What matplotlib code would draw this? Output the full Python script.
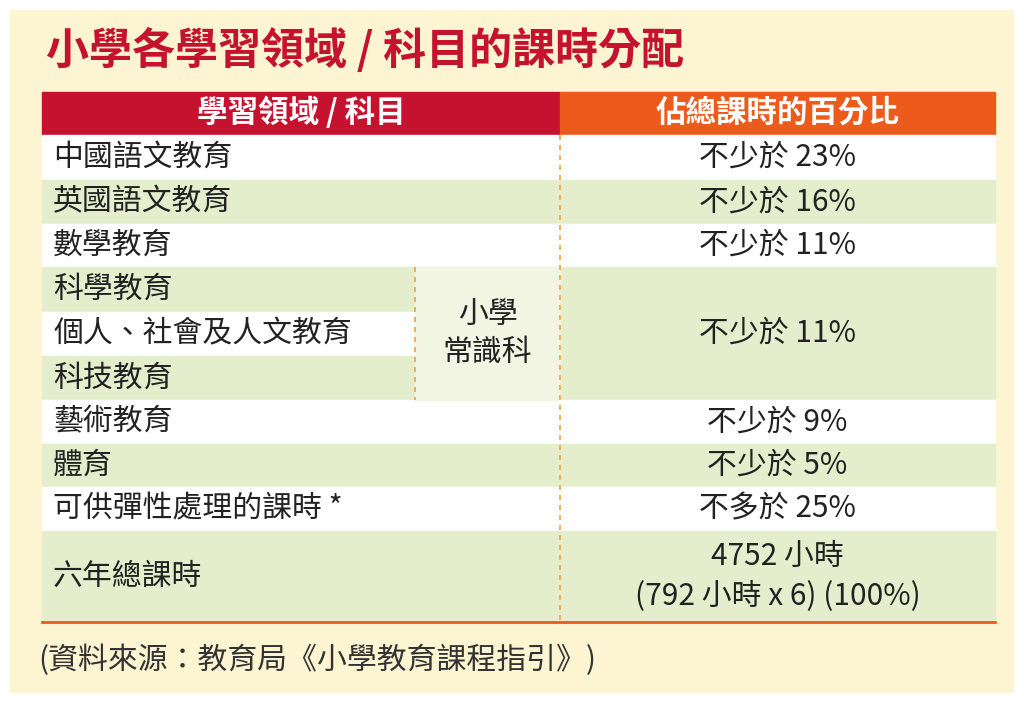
import matplotlib.pyplot as plt
from matplotlib.patches import Rectangle

plt.rcParams['font.family'] = 'Noto Sans CJK TC'

title = "小學各學習領域 / 科目的課時分配"
headers = ["學習領域 / 科目", "佔總課時的百分比"]
subjects = ["中國語文教育", "英國語文教育", "數學教育", "科學教育", "個人、社會及人文教育",
            "科技教育", "藝術教育", "體育", "可供彈性處理的課時 *", "六年總課時"]
percents = ["不少於 23%", "不少於 16%", "不少於 11%", None, "不少於 11%", None,
            "不少於 9%", "不少於 5%", "不多於 25%", "4752 小時\n(792 小時 x 6) (100%)"]
merged_label = "小學\n常識科"
source = "(資料來源：教育局《小學教育課程指引》)"

row_edges = [135, 180, 224, 267, 312, 356, 400, 444, 487, 531, 622]
x0, xm, xs, x1 = 42, 560, 415, 995
WHITE, GREEN, LIGHT = "#ffffff", "#e5eecc", "#f1f5e2"
ORANGE, RED = "#ec5a1c", "#c4122f"
FS = 21.5

fig = plt.figure(figsize=(10.24, 7.03), dpi=100)
ax = fig.add_axes([0, 0, 1, 1])
ax.set_xlim(0, 1024)
ax.set_ylim(703, 0)
ax.axis('off')
fig.patch.set_facecolor('white')
ax.add_patch(Rectangle((10, 10), 1003, 682, color="#fdf5d2", zorder=0))

ax.text(46, 50, title, color=RED, fontsize=31, fontweight='bold', va='center')

ax.add_patch(Rectangle((x0, 92), xm - x0, 43, color=RED))
ax.add_patch(Rectangle((xm, 92), x1 - xm, 43, color=ORANGE))
ax.text((x0 + xm) / 2, 113, headers[0], color='white', fontsize=22, fontweight='bold', ha='center', va='center')
ax.text((xm + x1) / 2, 113, headers[1], color='white', fontsize=22, fontweight='bold', ha='center', va='center')

for i, subj in enumerate(subjects):
    top, bot = row_edges[i], row_edges[i + 1]
    fill = WHITE if i % 2 == 0 else GREEN
    ax.add_patch(Rectangle((x0, top), xm - x0, bot - top, color=fill, zorder=1))
    ax.text(53, (top + bot) / 2, subj, fontsize=FS, va='center', color='#222222', zorder=3)
    if percents[i] is not None:
        if i == 4:
            ptop, pbot, pfill = row_edges[3], row_edges[6], GREEN
        else:
            ptop, pbot, pfill = top, bot, fill
        ax.add_patch(Rectangle((xm, ptop), x1 - xm, pbot - ptop, color=pfill, zorder=1))
        ax.text((xm + x1) / 2, (ptop + pbot) / 2, percents[i], fontsize=FS, ha='center',
                va='center', color='#222222', linespacing=1.4, zorder=3)

ax.add_patch(Rectangle((xs, row_edges[3]), xm - xs, row_edges[6] - row_edges[3], color=LIGHT, zorder=2))
ax.text((xs + xm) / 2, (row_edges[3] + row_edges[6]) / 2, merged_label, fontsize=FS,
        ha='center', va='center', color='#222222', linespacing=1.3, zorder=3)

ax.plot([xm, xm], [135, 622], color="#f0a040", lw=1.2, ls=(0, (3, 3)), zorder=4)
ax.plot([xs, xs], [row_edges[3], row_edges[6]], color="#f0a040", lw=1.2, ls=(0, (3, 3)), zorder=4)
ax.plot([x0, x1], [622, 622], color=ORANGE, lw=2, zorder=4)

ax.text(38, 660, source, fontsize=FS, va='center', color='#333333')

fig.savefig('out.png', dpi=100)
